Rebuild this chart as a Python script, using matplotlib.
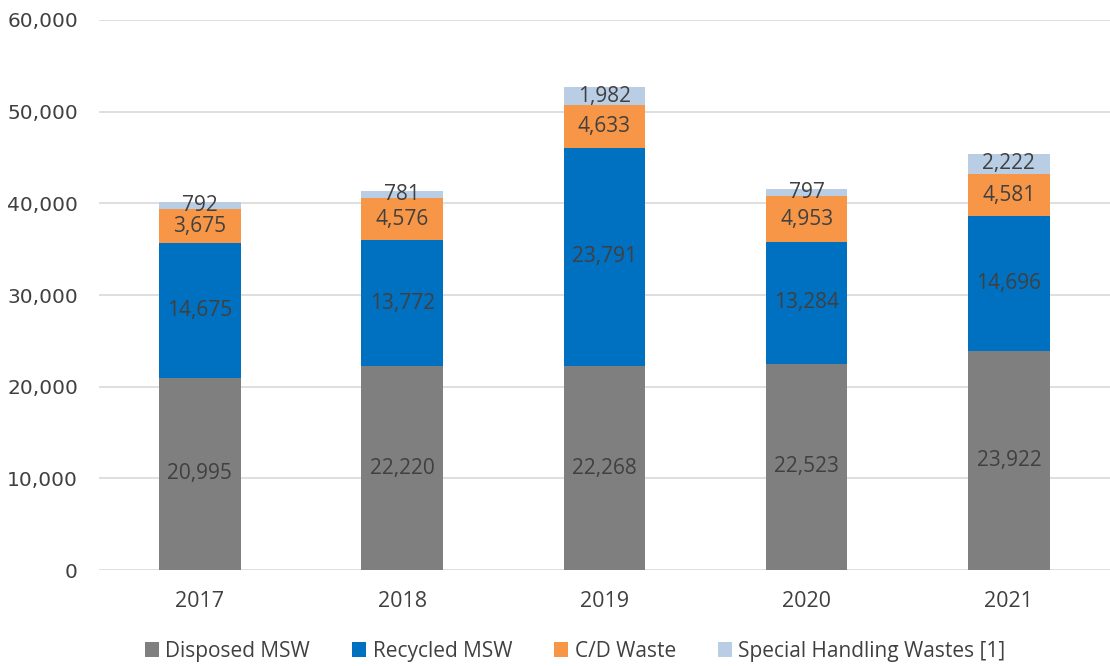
import matplotlib.pyplot as plt
from matplotlib.ticker import FuncFormatter

years = ['2017', '2018', '2019', '2020', '2021']
disposed = [20995, 22220, 22268, 22523, 23922]
recycled = [14675, 13772, 23791, 13284, 14696]
cd_waste = [3675, 4576, 4633, 4953, 4581]
special = [792, 781, 1982, 797, 2222]

series = [
    ('Disposed MSW', disposed, '#7F7F7F'),
    ('Recycled MSW', recycled, '#0070C0'),
    ('C/D Waste', cd_waste, '#F79646'),
    ('Special Handling Wastes [1]', special, '#B9CDE5'),
]

txt = '#404040'
lab_font = ['Open Sans', 'DejaVu Sans']

fig = plt.figure(figsize=(11.1, 6.66), dpi=100)
ax = fig.add_axes([0.089, 0.144, 0.911, 0.826])

x = list(range(len(years)))
bottom = [0] * len(years)
for name, vals, col in series:
    bars = ax.bar(x, vals, width=0.404, bottom=bottom, color=col, label=name, zorder=3)
    for i, b in enumerate(bars):
        v = vals[i]
        ax.text(b.get_x() + b.get_width() / 2, bottom[i] + v / 2, f'{v:,}',
                ha='center', va='center', fontsize=15, color=txt, family=lab_font, zorder=4)
    bottom = [bottom[i] + vals[i] for i in range(len(vals))]

ax.set_xlim(-0.5, 4.5)
ax.set_ylim(0, 60000)
ax.set_yticks(range(0, 60001, 10000))
ax.yaxis.set_major_formatter(FuncFormatter(lambda v, p: f'{int(v):,}'))
ax.grid(axis='y', color='#D9D9D9', linewidth=1.2, zorder=0)
ax.set_xticks(x)
ax.set_xticklabels(years, family=lab_font, fontsize=15.5)
for s in ax.spines.values():
    s.set_visible(False)
ax.tick_params(axis='both', length=0, colors=txt)
ax.tick_params(axis='x', pad=15)
ax.tick_params(axis='y', pad=15)
for t in ax.get_yticklabels():
    t.set_fontsize(14.5)

ax.legend(loc='upper center', bbox_to_anchor=(0.471, -0.113), ncol=4, frameon=False,
          prop={'family': lab_font, 'size': 15}, labelcolor=txt,
          handlelength=0.7, handleheight=0.7, handletextpad=0.3, columnspacing=2.0,
          borderaxespad=0.2, borderpad=0.2)

fig.savefig('out.png', dpi=100)
